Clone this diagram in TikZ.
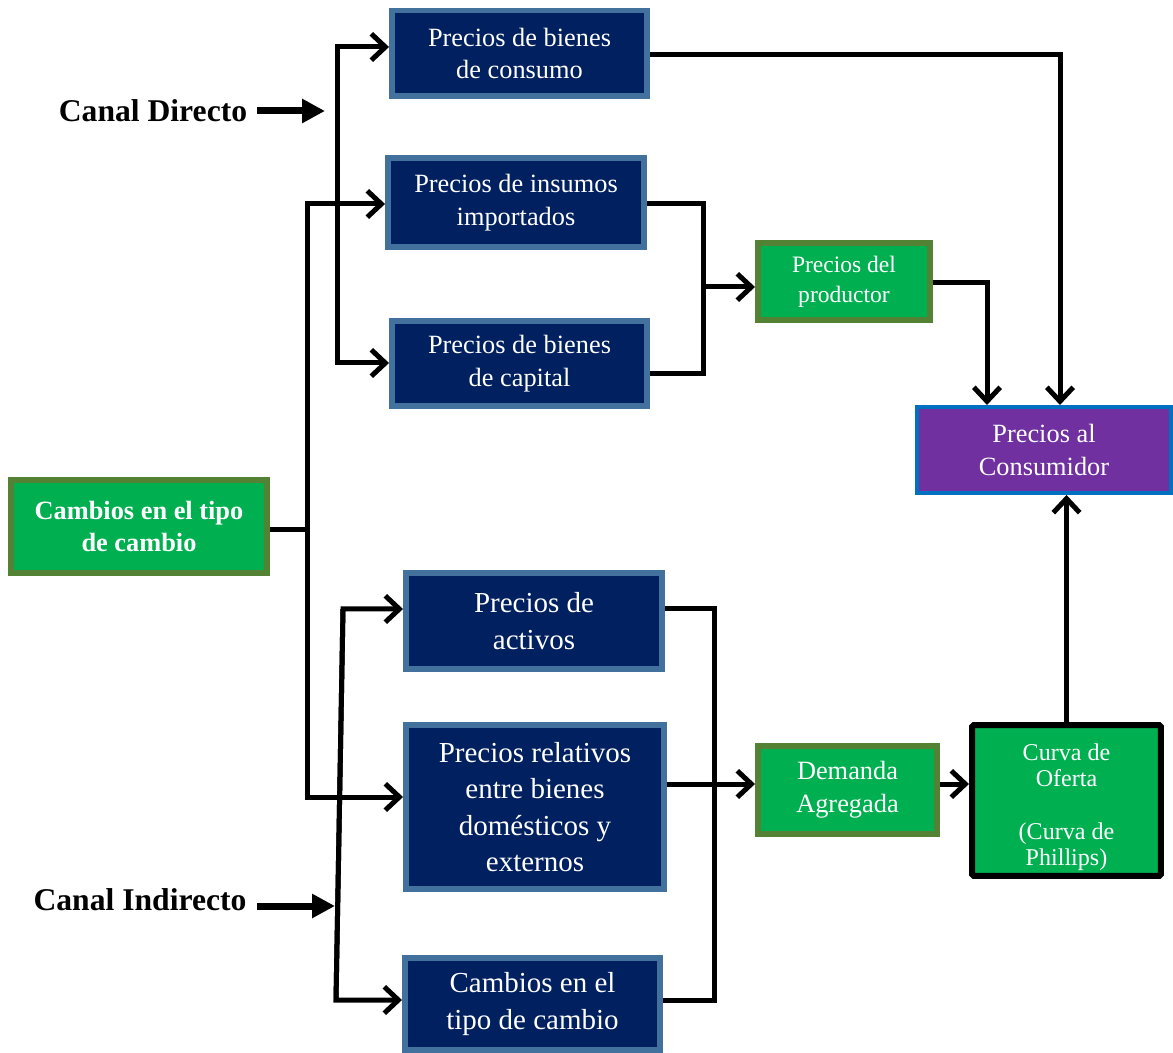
\documentclass[tikz,border=0pt]{standalone}
\usepackage{fontspec}
\setmainfont{Liberation Serif}
\usetikzlibrary{arrows.meta}
\definecolor{navyfill}{HTML}{002060}
\definecolor{navyedge}{HTML}{41719C}
\definecolor{grnfill}{HTML}{00B050}
\definecolor{grnedge}{HTML}{548235}
\definecolor{purfill}{HTML}{7030A0}
\definecolor{puredge}{HTML}{0070C0}
\begin{document}
\begin{tikzpicture}[x=0.02cm,y=-0.02cm,
    navy/.style={draw=navyedge,fill=navyfill,line width=0.11cm,outer sep=0.055cm,text=white,align=center,inner sep=0pt,font=\fontsize{15}{18.7}\selectfont},
    navybig/.style={navy,font=\fontsize{16.5}{20.7}\selectfont},
    grn/.style={draw=grnedge,fill=grnfill,line width=0.12cm,outer sep=0.06cm,text=white,align=center,inner sep=0pt,font=\fontsize{15}{18.7}\selectfont},
    link/.style={line width=0.1cm},
    flow/.style={link,-{Straight Barb[length=8pt,width=15pt]}},
    canal/.style={line width=0.14cm,-{Triangle[length=13pt,width=13pt]}}]
            \useasboundingbox (0,0) rectangle (1173,1053);
            \node[navy,minimum width=5.11cm,minimum height=1.71cm] (cons) at (519.5,53.5) {Precios de bienes\\de consumo};
            \node[navy,minimum width=5.13cm,minimum height=1.79cm] (insu) at (516,202.5) {Precios de insumos\\importados};
            \node[navy,minimum width=5.11cm,minimum height=1.71cm] (capi) at (519.5,363.5) {Precios de bienes\\de capital};
            \node[grn,minimum width=3.44cm,minimum height=1.54cm,font=\fontsize{13.4}{17}\selectfont] (prod) at (844,281.5) {Precios del\\productor};
            \node[draw=puredge,fill=purfill,line width=0.08cm,outer sep=0.04cm,text=white,align=center,inner sep=0pt,font=\fontsize{15}{18.3}\selectfont,minimum width=5.08cm,minimum height=1.72cm] (pcon) at (1044,450) {Precios al\\Consumidor};
            \node[grn,minimum width=5.12cm,minimum height=1.86cm,font=\fontsize{15}{18.7}\bfseries] (camb) at (139,526.5) {Cambios en el tipo\\de cambio};
            \node[navybig,minimum width=5.13cm,minimum height=1.93cm] (acti) at (534,621) {Precios de\\activos};
            \node[navybig,minimum width=5.17cm,minimum height=3.29cm] (rela) at (535,807) {Precios relativos\\entre bienes\\domésticos y\\externos};
            \node[navybig,minimum width=5.11cm,minimum height=1.85cm] (tipo) at (532.5,1004) {Cambios en el\\tipo de cambio};
            \node[grn,minimum width=3.58cm,minimum height=1.76cm] (dema) at (847.5,790) {Demanda\\Agregada};
            \node[grn,draw=black,minimum width=3.78cm,minimum height=3.02cm,rounded corners=1pt,font=\fontsize{13.7}{15}\selectfont] (curv) at (1066.5,800.5) {\rule{0pt}{17pt}Curva de\\Oferta\\[15pt](Curva de\\Phillips)};
            \node[font=\fontsize{18}{22}\bfseries,inner xsep=0.2cm] (dir) at (153,111) {Canal Directo};
            \node[font=\fontsize{18}{22}\bfseries,inner xsep=0.2cm] (ind) at (140,900) {Canal Indirecto};
            \coordinate (dtip) at (325,111);
            \coordinate (itip) at (335,906);
            \coordinate (d1) at (337,47);
            \coordinate (d2) at (337,363);
            \coordinate (c0) at (307,530);
            \coordinate (i1) at (343,609);
            \coordinate (i2) at (336,1000);
            \coordinate (p1) at (703,204);
            \coordinate (p2) at (703,374);
            \coordinate (p3) at (703,287);
            \coordinate (q1) at (987,405);
            \coordinate (q2) at (1060,405);
            \coordinate (a1) at (714,609);
            \coordinate (a2) at (714,1000);
            \coordinate (a3) at (714,784);
            \draw[canal] (dir.east |- dtip) -- (dtip);
            \draw[canal] (ind.east |- itip) -- (itip);
            \draw[flow] (d2) -- (d1) -- (d1 -| cons.west);
            \draw[flow] (d1) -- (d2) -- (d2 -| capi.west);
            \draw[link] (camb.east |- c0) -- (c0);
            \draw[flow] (c0) |- (insu.west |- p1);
            \draw[flow] (c0) |- (rela.west |- 0,797);
            \draw[flow] (i2) -- (i1) -- (i1 -| acti.west);
            \draw[flow] (i1) -- (i2) -- (i2 -| tipo.west);
            \draw[link] (insu.east |- p1) -- (p1) -- (p2) -- (capi.east |- p2);
            \draw[flow] (p3) -- (p3 -| prod.west);
            \draw[flow] (prod.east |- 0,283) -| (q1);
            \draw[flow] (cons.east |- 0,55) -| (q2);
            \draw[link] (acti.east |- a1) -- (a1) -- (a2) -- (tipo.east |- a2);
            \draw[flow] (rela.east |- a3) -- (a3 -| dema.west);
            \draw[flow] (dema.east |- a3) -- (a3 -| curv.west);
            \draw[flow] (curv.north) -- (curv.north |- pcon.south);
         \end{tikzpicture}
\end{document}
